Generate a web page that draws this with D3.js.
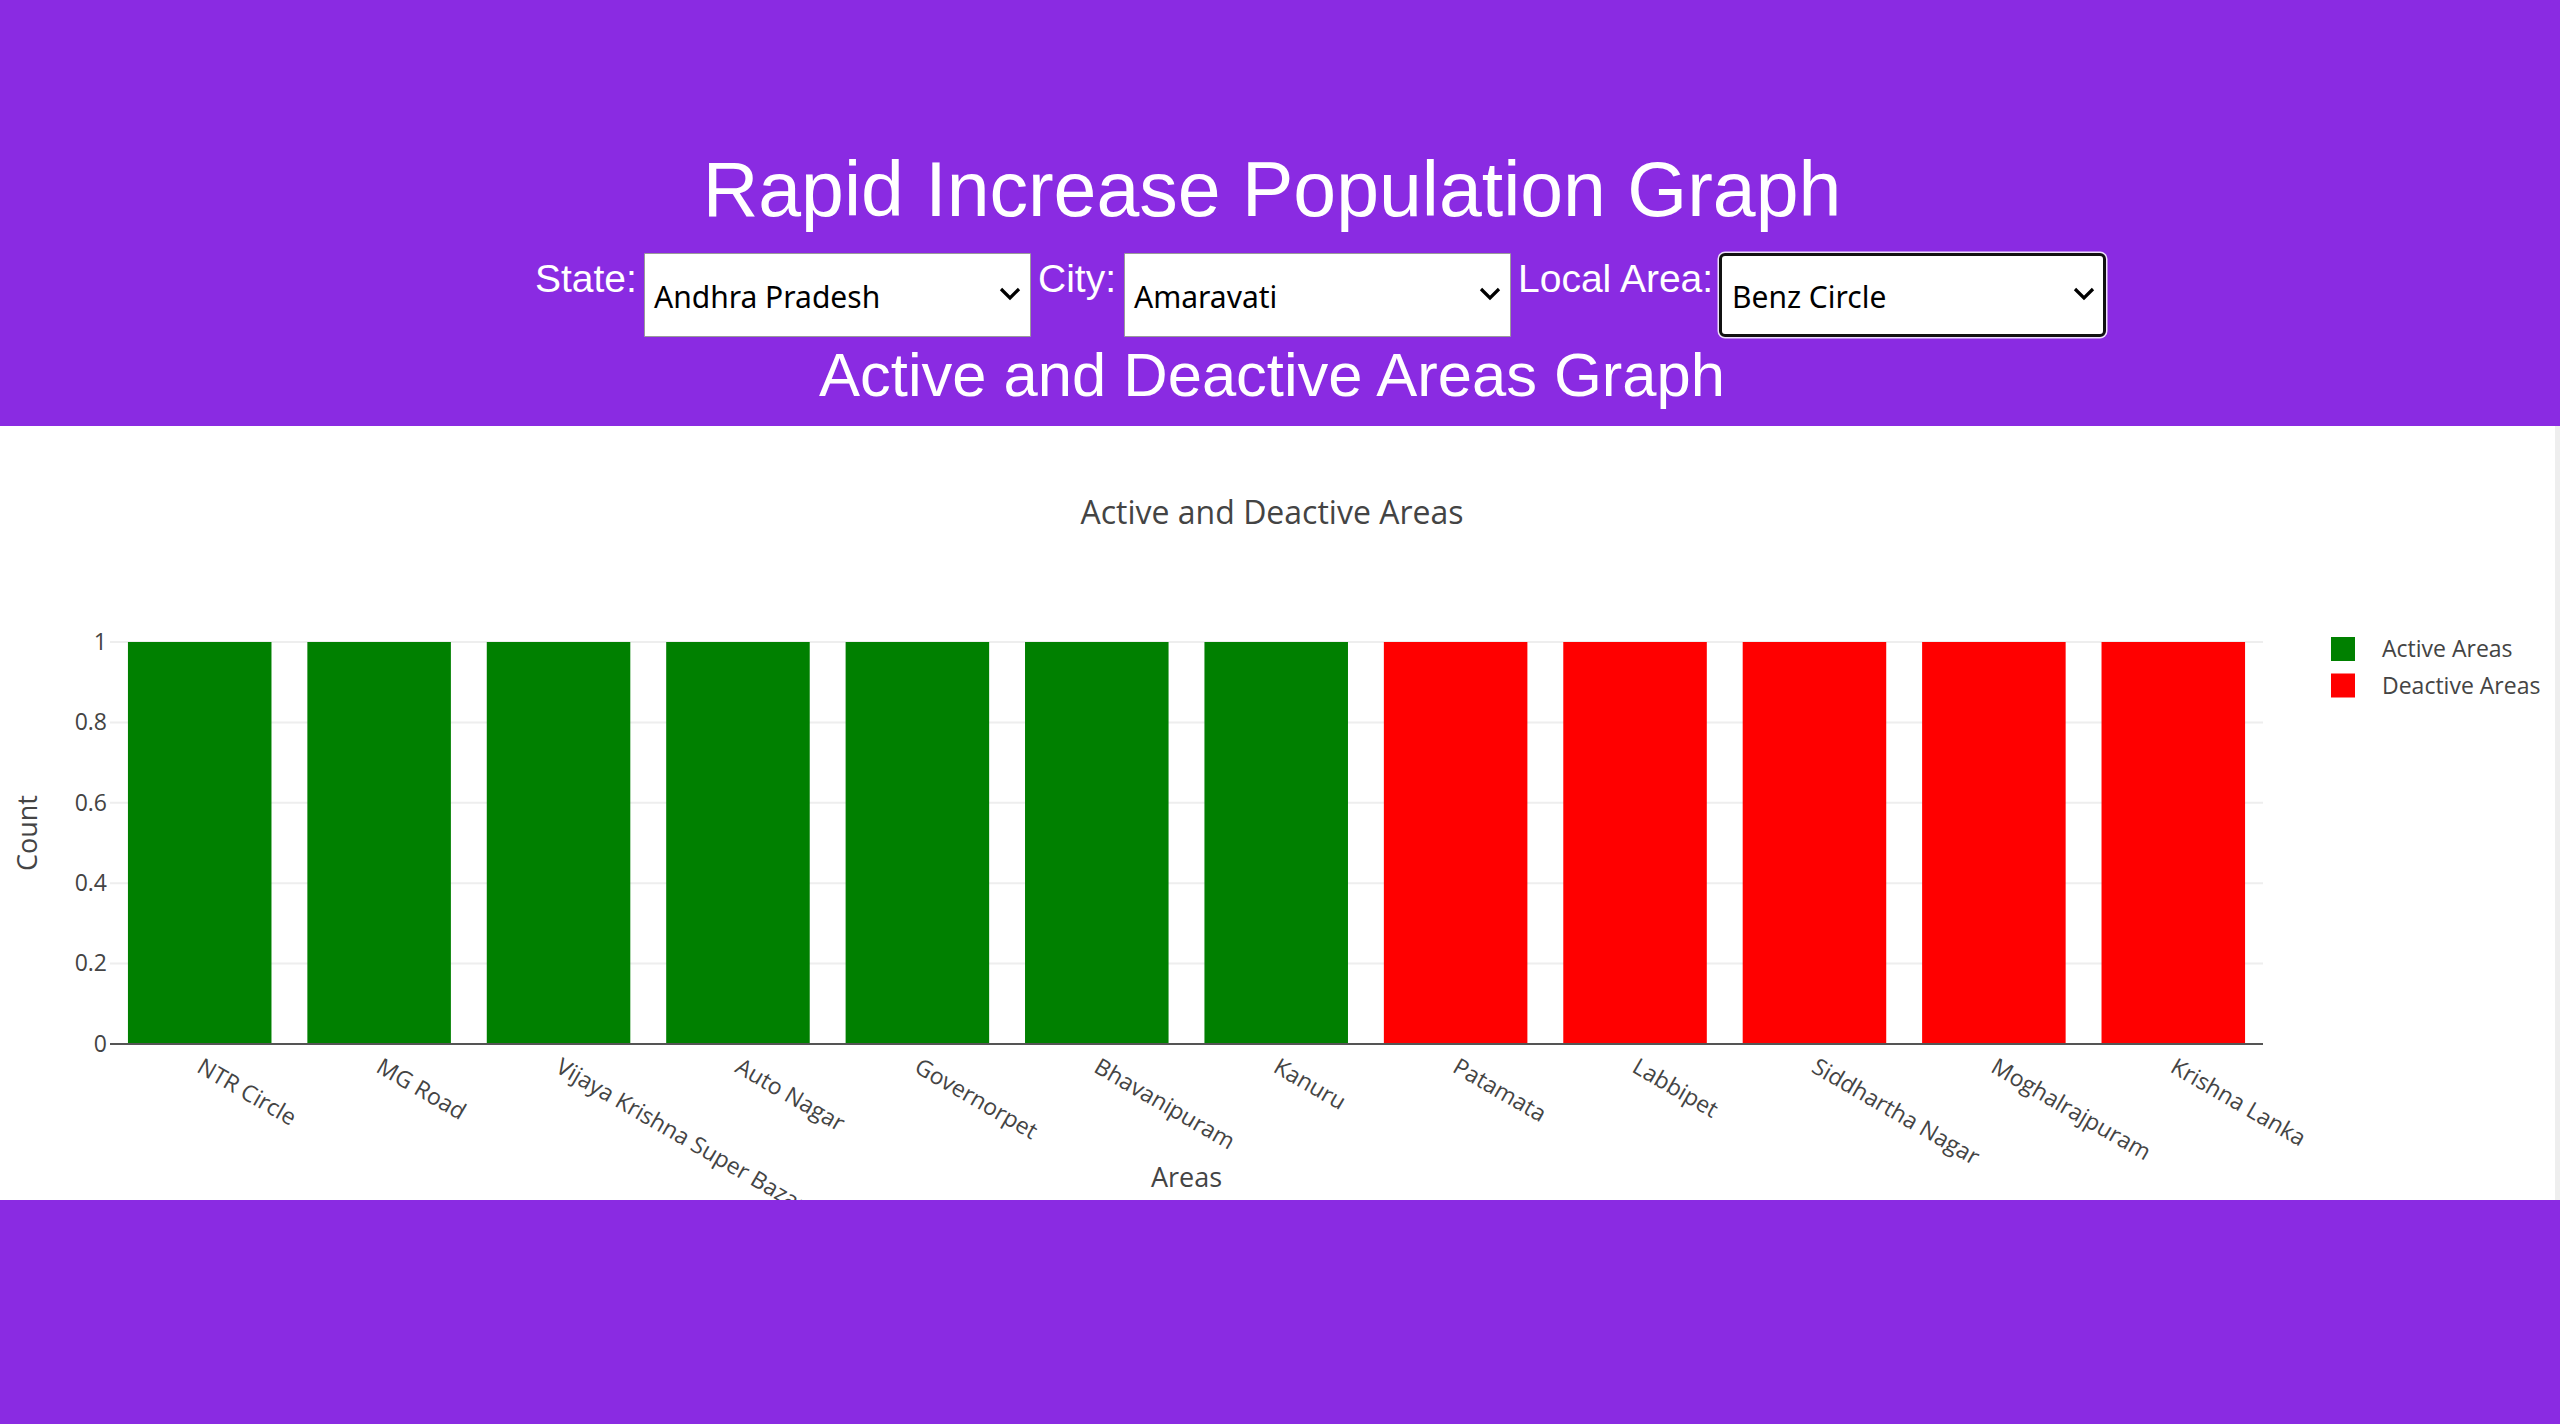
<!DOCTYPE html>
<html>
<head>
<meta charset="utf-8">
<script src="https://cdn.jsdelivr.net/npm/d3@7"></script>
<style>
  html, body { margin: 0; padding: 0; }
  body { width: 2560px; height: 1424px; background: #8a2be2; position: relative; overflow: hidden; }
  .head { position: absolute; color: #fff; font-family: "Liberation Sans", Arial, sans-serif; line-height: normal; white-space: nowrap; margin: 0; font-weight: normal; }
  .pick { position: absolute; box-sizing: border-box; background: #fff; }
  .pick span { position: absolute; left: 10px; font-family: "Noto Sans", "Open Sans", sans-serif; font-size: 30px; line-height: normal; color: #000; white-space: nowrap; }
  .pick svg { position: absolute; }
  #chart { position: absolute; left: 0; top: 426px; }
  #edge { position: absolute; left: 2555px; top: 426px; width: 5px; height: 774px; background: #eeeeee; }
</style>
</head>
<body>
<div id="chart"></div>
<div id="edge"></div>
<script>
// header texts and the three pickers
const pageTitle = "Rapid Increase Population Graph";
const chartHeading = "Active and Deactive Areas Graph";
const pickerLabels = ["State:", "City:", "Local Area:"];
const pickerValues = ["Andhra Pradesh", "Amaravati", "Benz Circle"];

// chart data
const areaNames = ["NTR Circle", "MG Road", "Vijaya Krishna Super Bazar", "Auto Nagar", "Governorpet",
  "Bhavanipuram", "Kanuru", "Patamata", "Labbipet", "Siddhartha Nagar", "Moghalrajpuram", "Krishna Lanka"];
const areaCounts = [1, 1, 1, 1, 1, 1, 1, 1, 1, 1, 1, 1];
const areaStatus = ["Active Areas", "Active Areas", "Active Areas", "Active Areas", "Active Areas", "Active Areas",
  "Active Areas", "Deactive Areas", "Deactive Areas", "Deactive Areas", "Deactive Areas", "Deactive Areas"];
const seriesNames = ["Active Areas", "Deactive Areas"];
const seriesColors = ["#008000", "#ff0000"];
const yTicks = [0, 0.2, 0.4, 0.6, 0.8, 1];

const body = d3.select("body");

// ================================
// Header
// ================================
body.append("h1").attr("class", "head")
  .style("left", "0px").style("width", "2544px").style("text-align", "center")
  .style("top", "145px").style("font-size", "77px")
  .text(pageTitle);

body.append("h2").attr("class", "head")
  .style("left", "0px").style("width", "2544px").style("text-align", "center")
  .style("top", "339px").style("font-size", "61.5px")
  .text(chartHeading);

const labelX = [535, 1038, 1518];
const pickX = [644, 1124, 1719];

pickerLabels.forEach((t, i) => {
  body.append("div").attr("class", "head")
    .style("left", labelX[i] + "px").style("top", "257px").style("font-size", "39px")
    .text(t);
});

pickerValues.forEach((v, i) => {
  const focused = i === 2;
  const box = body.append("div").attr("class", "pick")
    .style("left", pickX[i] + "px").style("top", "253px")
    .style("width", "387px").style("height", "84px")
    .style("border", focused ? "3px solid #111" : "1.5px solid #9a9a9a")
    .style("border-radius", focused ? "6px" : "1px")
    .style("box-shadow", focused ? "0 0 0 1.5px rgba(255,255,255,0.85)" : "none");
  box.append("span")
    .style("top", (focused ? 20 : 21.5) + "px")
    .style("left", (focused ? 10 : 9) + "px")
    .text(v);
  const chev = box.append("svg")
    .attr("width", 24).attr("height", 16)
    .style("right", (focused ? 7 : 8) + "px")
    .style("top", (focused ? 30 : 32) + "px");
  chev.append("path")
    .attr("d", "M3,3 L12,12 L21,3")
    .attr("fill", "none").attr("stroke", "#000").attr("stroke-width", 3.2);
});

// ================================
// Chart
// ================================
const width = 2555, height = 774;
const margin = {top: 216, right: 293, bottom: 156, left: 110};

const svg = d3.select("#chart").append("svg")
  .attr("width", width).attr("height", height)
  .style("display", "block")
  .style("background", "#fff")
  .style("font-family", "'Open Sans', verdana, arial, sans-serif");

const x = d3.scaleBand()
  .domain(areaNames)
  .range([margin.left, width - margin.right + 1])
  .paddingInner(0.2)
  .paddingOuter(0.1);

const y = d3.scaleLinear()
  .domain([0, 1])
  .range([height - margin.bottom, margin.top]);

const color = d3.scaleOrdinal().domain(seriesNames).range(seriesColors);

// grid lines
svg.append("g")
  .selectAll("line")
  .data(yTicks.filter(d => d > 0))
  .join("line")
  .attr("x1", x.range()[0]).attr("x2", x.range()[1])
  .attr("y1", d => y(d)).attr("y2", d => y(d))
  .attr("stroke", "#eeeeee").attr("stroke-width", 2);

// bars
svg.append("g")
  .selectAll("rect")
  .data(areaNames.map((n, i) => ({name: n, count: areaCounts[i], status: areaStatus[i]})))
  .join("rect")
  .attr("x", d => x(d.name))
  .attr("width", x.bandwidth())
  .attr("y", d => y(d.count))
  .attr("height", d => y(0) - y(d.count))
  .attr("fill", d => color(d.status));

// zero line
svg.append("line")
  .attr("x1", x.range()[0]).attr("x2", x.range()[1])
  .attr("y1", y(0)).attr("y2", y(0))
  .attr("stroke", "#555").attr("stroke-width", 2);

// y tick labels
const yAxis = g => g
  .attr("transform", `translate(${margin.left - 3},0)`)
  .call(d3.axisLeft(y).tickValues(yTicks).tickFormat(d3.format("~g")).tickSize(0).tickPadding(0))
  .call(g => g.select(".domain").remove())
  .call(g => g.selectAll("text")
    .attr("fill", "#444")
    .attr("font-size", 23)
    .attr("font-family", null));

svg.append("g").call(yAxis).attr("font-family", null);

// x tick labels, angled (the long one is cut by the chart's bottom edge, as in the page)
svg.append("g")
  .selectAll("text")
  .data(areaNames)
  .join("text")
  .attr("transform", d => `translate(${x(d) + x.bandwidth() / 2 + 4},${y(0) + 13}) rotate(30)`)
  .attr("dy", "0.72em")
  .attr("fill", "#444")
  .attr("font-size", 23)
  .text(d => d);

// titles
svg.append("text")
  .attr("x", 1272).attr("y", 98)
  .attr("text-anchor", "middle")
  .attr("fill", "#444").attr("font-size", 32)
  .text("Active and Deactive Areas");

svg.append("text")
  .attr("transform", `translate(28,${(y(0) + y(1)) / 2 - 10}) rotate(-90)`)
  .attr("text-anchor", "middle")
  .attr("dy", "0.35em")
  .attr("fill", "#444").attr("font-size", 27)
  .text("Count");

svg.append("text")
  .attr("x", (x.range()[0] + x.range()[1]) / 2).attr("y", 761)
  .attr("text-anchor", "middle")
  .attr("fill", "#444").attr("font-size", 27)
  .text("Areas");

// legend
const legend = svg.append("g")
  .selectAll("g")
  .data(seriesNames)
  .join("g")
  .attr("transform", (d, i) => `translate(2331,${211 + i * 36.5})`);

legend.append("rect")
  .attr("width", 24).attr("height", 24)
  .attr("fill", d => color(d));

legend.append("text")
  .attr("x", 51).attr("y", 20)
  .attr("fill", "#444").attr("font-size", 23)
  .text(d => d);
</script>
</body>
</html>
